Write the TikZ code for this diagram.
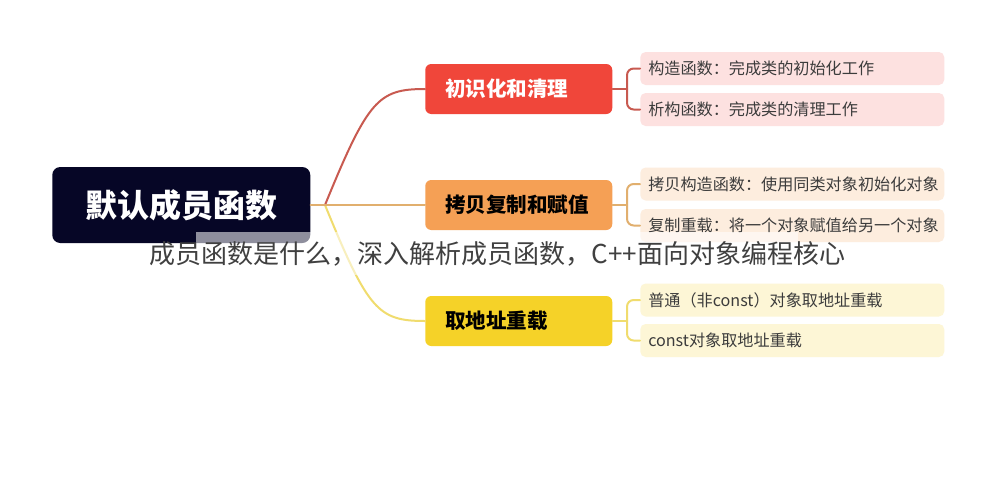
\documentclass[tikz,border=0pt]{standalone}
\usepackage{fontspec}
\setmainfont{Noto Sans CJK SC}
\usepackage{tikz}

\definecolor{rootnavy}{RGB}{6,6,38}
\definecolor{redbox}{RGB}{240,70,58}
\definecolor{orangebox}{RGB}{245,160,85}
\definecolor{yellowbox}{RGB}{245,210,40}
\definecolor{redsub}{RGB}{253,225,224}
\definecolor{orangesub}{RGB}{253,237,222}
\definecolor{yellowsub}{RGB}{253,246,214}
\definecolor{redline}{RGB}{200,90,80}
\definecolor{orangeline}{RGB}{225,175,110}
\definecolor{yellowline}{RGB}{240,220,110}
\definecolor{subtext}{RGB}{60,60,60}

\tikzset{
  rootbox/.style={fill=rootnavy, rounded corners=6pt, minimum width=193.5pt, minimum height=57pt,
    text=white, font=\fontsize{24}{28}\selectfont\bfseries, anchor=west},
  topicbox/.style={rounded corners=4.5pt, minimum height=37.5pt, text width=110.25pt, inner xsep=15pt,
    align=left, font=\fontsize{15.4}{18}\selectfont\bfseries, anchor=west},
  subbox/.style={rounded corners=4pt, minimum height=24.75pt, text width=216pt, inner xsep=6pt, inner ysep=0pt,
    align=left, text=subtext, font=\fontsize{12.1}{15}\selectfont, anchor=west},
  branch/.style={line width=1.5pt, line cap=round}
}

\begin{document}
\begin{tikzpicture}[x=0.75pt,y=-0.75pt]
\useasboundingbox (0,0) rectangle (997,490);
\fill[white] (0,0) rectangle (997,490);

% root and fork
\node[rootbox] (root) at (52,205) {默认成员函数};
\coordinate (fork) at (325,205);

% first level
\node[topicbox, fill=redbox, text=white] (init) at (425,89) {初识化和清理};
\node[topicbox, fill=orangebox] (copy) at (425,205) {拷贝复制和赋值};
\node[topicbox, fill=yellowbox] (addr) at (425,321) {取地址重载};

% leaves
\node[subbox, fill=redsub] (ctor) at (640,68.5) {构造函数：完成类的初始化工作};
\node[subbox, fill=redsub] (dtor) at (640,109.5) {析构函数：完成类的清理工作};
\node[subbox, fill=orangesub] (cctor) at (640,184) {拷贝构造函数：使用同类对象初始化对象};
\node[subbox, fill=orangesub] (assign) at (640,225.5) {复制重载：将一个对象赋值给另一个对象};
\node[subbox, fill=yellowsub] (plain) at (640,300) {普通（非const）对象取地址重载};
\node[subbox, fill=yellowsub] (cnst) at (640,340.5) {const对象取地址重载};

% branches
\draw[branch, redline] (fork) .. controls (368,100) and (378,89) .. (init.west);
\draw[branch, yellowline] (fork) .. controls (368,310) and (378,321) .. (addr.west);
\draw[branch, orangeline] (root.east) -- (copy.west);

% brackets
\coordinate (kinit) at (627,89);
\coordinate (kcopy) at (627,205);
\coordinate (kaddr) at (627,321);
\draw[branch, redline] (init.east) -- (kinit);
\draw[branch, redline, rounded corners=5pt] (ctor.west) -| (kinit) |- (dtor.west);
\draw[branch, orangeline] (copy.east) -- (kcopy);
\draw[branch, orangeline, rounded corners=5pt] (cctor.west) -| (kcopy) |- (assign.west);
\draw[branch, yellowline] (addr.east) -- (kaddr);
\draw[branch, yellowline, rounded corners=5pt] (plain.west) -| (kaddr) |- (cnst.west);

% caption overlay
\fill[white, opacity=0.55] (196,232) rectangle (798,275);
\node[text=black!75, font=\fontsize{19.5}{22}\selectfont] (caption) at (497.5,254) {成员函数是什么，深入解析成员函数，C++面向对象编程核心};
\end{tikzpicture}
\end{document}
